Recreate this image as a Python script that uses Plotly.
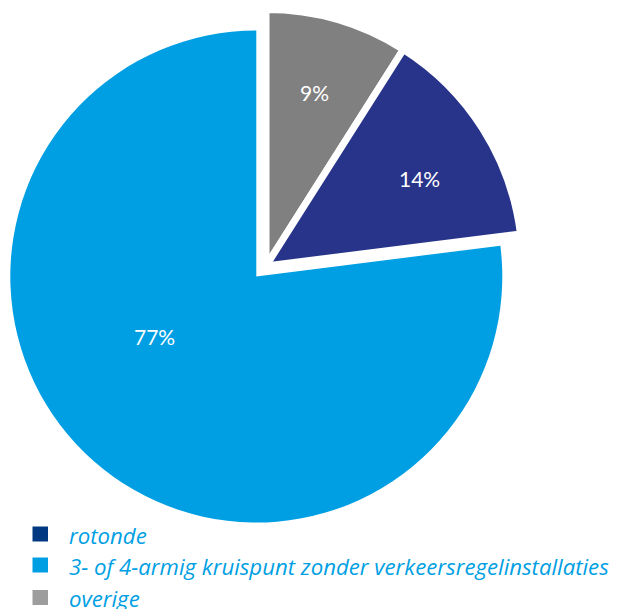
import plotly.graph_objects as go

# ---- data ----
labels = ["overige", "rotonde", "3- of 4-armig kruispunt zonder verkeersregelinstallaties"]
values = [9, 14, 77]
pie_colors = ["#808080", "#28348A", "#009FE3"]
legend_labels = ["rotonde", "3- of 4-armig kruispunt zonder verkeersregelinstallaties", "overige"]
legend_colors = ["#003882", "#009FE3", "#9D9D9D"]
pct_labels = ["9%", "14%", "77%"]

# page body has an 8px margin; work in window pixels and convert
OFF = 8
W, H = 623 - OFF, 609 - OFF
TRANSP = "rgba(0,0,0,0)"


def px_x(x):
    return (x - OFF) / W


def px_y(y):
    return 1 - (y - OFF) / H


def dom(cx, cy, r):
    return dict(x=[px_x(cx - r), px_x(cx + r)], y=[px_y(cy + r), px_y(cy - r)])


fig = go.Figure()

# main (big) slice, not exploded
fig.add_trace(go.Pie(
    labels=labels, values=values, sort=False, direction="clockwise", rotation=0,
    marker=dict(colors=[TRANSP, TRANSP, pie_colors[2]], line=dict(width=0)),
    textinfo="none", hoverinfo="label+percent", showlegend=False,
    domain=dom(256.3, 276.5, 246),
))
# exploded group (overige + rotonde)
fig.add_trace(go.Pie(
    labels=labels, values=values, sort=False, direction="clockwise", rotation=0,
    marker=dict(colors=[pie_colors[0], pie_colors[1], TRANSP],
                line=dict(color=["white", "white", TRANSP], width=[7, 7, 0])),
    textinfo="none", hoverinfo="label+percent", showlegend=False,
    domain=dom(266, 266, 256.5),
))

# percentage labels
pct_pos = [(314, 93), (419, 179), (154, 336)]
for txt, (px, py) in zip(pct_labels, pct_pos):
    fig.add_annotation(x=px_x(px), y=px_y(py), xref="paper", yref="paper",
                       text=txt, showarrow=False, xanchor="center", yanchor="middle",
                       font=dict(family="Lato", size=21, color="white"))

# custom legend
leg_y = [534, 565, 597.5]
for lab, col, y in zip(legend_labels, legend_colors, leg_y):
    fig.add_shape(type="rect", xref="paper", yref="paper",
                  x0=px_x(32.5), x1=px_x(48), y0=px_y(y + 7.5), y1=px_y(y - 7.5),
                  fillcolor=col, line=dict(width=0))
    fig.add_annotation(x=px_x(67), y=px_y(y + 1), xref="paper", yref="paper",
                       text=f"<i>{lab}</i>", showarrow=False, xanchor="left", yanchor="middle",
                       font=dict(family="Open Sans", size=22.2, color="#009FE3"))

fig.update_layout(width=W, height=H, margin=dict(l=0, r=0, t=0, b=0),
                  paper_bgcolor="white", plot_bgcolor="white", showlegend=False)

fig.write_html("out.html")
